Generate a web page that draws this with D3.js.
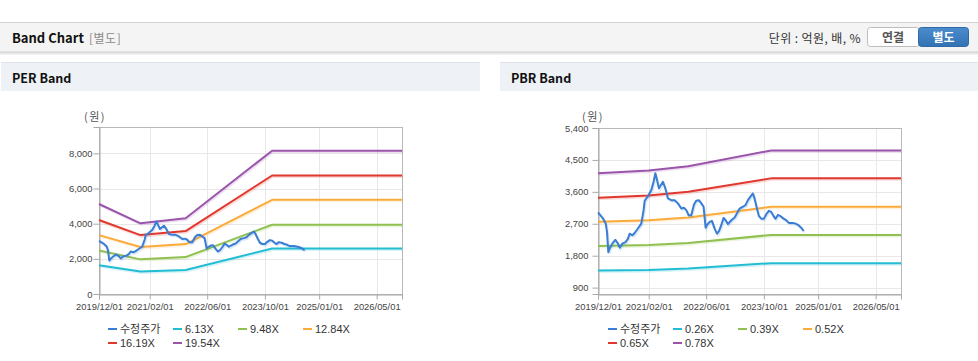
<!DOCTYPE html>
<html><head><meta charset="utf-8">
<script src="https://cdn.jsdelivr.net/npm/d3@7"></script>
<style>
html,body{margin:0;padding:0;background:#fff;}
svg{display:block;}
</style></head>
<body>
<svg id="c" width="978" height="361"></svg>
<script>
// ---------- DATA ----------
const xTickDates = ["2019-12-01","2021-02-01","2022-06-01","2023-10-01","2025-01-01","2026-05-01"];
const xTickLabels = ["2019/12/01","2021/02/01","2022/06/01","2023/10/01","2025/01/01","2026/05/01"];
const xDomain = ["2019-12-01","2026-12-01"];

const priceDates = ["2019-12-01","2020-01-12","2020-02-04","2020-02-15","2020-02-26","2020-03-08","2020-03-31","2020-04-25","2020-05-18","2020-06-01","2020-06-23","2020-07-21","2020-08-10","2020-08-24","2020-09-16","2020-10-05","2020-10-28","2020-11-30","2020-12-20","2020-12-29","2021-01-26","2021-02-23","2021-03-14","2021-03-29","2021-04-12","2021-04-28","2021-06-01","2021-06-21","2021-07-13","2021-08-11","2021-09-08","2021-10-06","2021-11-03","2021-11-25","2021-12-15","2022-01-04","2022-01-26","2022-02-18","2022-03-09","2022-04-01","2022-04-21","2022-05-10","2022-05-27","2022-06-07","2022-06-30","2022-07-20","2022-08-11","2022-08-31","2022-09-17","2022-10-06","2022-10-26","2022-11-12","2022-12-01","2022-12-30","2023-01-27","2023-02-15","2023-03-10","2023-04-07","2023-04-29","2023-05-19","2023-06-08","2023-06-30","2023-07-14","2023-08-03","2023-08-20","2023-09-09","2023-10-01","2023-10-21","2023-11-12","2023-12-02","2023-12-22","2024-01-07","2024-01-27","2024-02-19","2024-03-15","2024-04-06","2024-04-29","2024-06-02","2024-06-24","2024-07-19","2024-08-11","2024-08-31"];
const priceValues = [3020,2850,2705,2470,1900,2000,2140,2250,2140,2025,2140,2185,2280,2420,2375,2440,2545,2705,3085,3350,3480,3650,3885,4125,3935,3700,3885,3700,3415,3365,3365,3275,3130,3150,3085,2940,2940,3245,3350,3365,3275,3180,2590,2660,2755,2780,2565,2420,2495,2660,2865,2800,2690,2800,2875,2990,3130,3180,3225,3365,3460,3555,3415,3130,2915,2845,2845,2970,3065,3035,2915,2840,2950,2915,2845,2800,2725,2725,2705,2660,2590,2495];

const perBandDates = ["2019-12-01","2020-11-15","2021-12-01","2023-12-01","2026-12-01"];
const perBand613  = [1640,1280,1360,2590,2590];
const perBand948  = [2480,1970,2100,3940,3940];
const perBand1284 = [3350,2670,2840,5360,5360];
const perBand1619 = [4210,3350,3580,6740,6740];
const perBand1954 = [5120,4020,4310,8150,8150];
const perLegend = ["수정주가","6.13X","9.48X","12.84X","16.19X","19.54X"];
const perYTicks = [0,2000,4000,6000,8000];
const perYDomain = [0,9500];

const pbrBandDates = ["2019-12-01","2021-02-01","2022-01-01","2023-12-01","2026-12-01"];
const pbrBand026 = [1385,1400,1440,1590,1590];
const pbrBand039 = [2070,2100,2160,2385,2385];
const pbrBand052 = [2755,2800,2880,3180,3180];
const pbrBand065 = [3437,3500,3600,3980,3980];
const pbrBand078 = [4125,4200,4320,4768,4768];
const pbrLegend = ["수정주가","0.26X","0.39X","0.52X","0.65X","0.78X"];
const pbrYTicks = [900,1800,2700,3600,4500,5400];
const pbrYDomain = [720,5400];

const seriesColors = ["#3a7dd4","#22bdd2","#90c04f","#fbab3b","#e0382e","#9a55ab"];

// ---------- DRAW ----------
const parse = d3.timeParse("%Y-%m-%d");
const svg = d3.select("#c");
const KR = "'Noto Sans CJK KR','Noto Sans',sans-serif";
const AX = "'Liberation Sans',Arial,'Noto Sans CJK KR',sans-serif";

const defs = svg.append("defs");
const sh = defs.append("linearGradient").attr("id","shadow").attr("x1",0).attr("y1",0).attr("x2",0).attr("y2",1);
sh.append("stop").attr("offset","0%").attr("stop-color","#cfcfcf");
sh.append("stop").attr("offset","100%").attr("stop-color","#ffffff");
const bg = defs.append("linearGradient").attr("id","blueBtn").attr("x1",0).attr("y1",0).attr("x2",0).attr("y2",1);
bg.append("stop").attr("offset","0%").attr("stop-color","#4d8ccc");
bg.append("stop").attr("offset","100%").attr("stop-color","#3272b3");

// header bar
svg.append("rect").attr("x",0).attr("y",22).attr("width",978).attr("height",30).attr("fill","#f4f4f4");
svg.append("line").attr("x1",0).attr("x2",978).attr("y1",22.5).attr("y2",22.5).attr("stroke","#d2d2d2");
svg.append("rect").attr("x",0).attr("y",51.5).attr("width",978).attr("height",4).attr("fill","url(#shadow)");
svg.append("text").attr("x",12).attr("y",43).attr("font-family",KR).attr("font-weight","bold")
  .attr("font-size",13).attr("fill","#111").text("Band Chart");
svg.append("text").attr("x",89).attr("y",43).attr("font-family",KR)
  .attr("font-size",12).attr("fill","#8a8a8a").attr("letter-spacing",0.5).text("[별도]");
svg.append("text").attr("x",861).attr("y",42.5).attr("text-anchor","end").attr("font-family",KR)
  .attr("font-size",12).attr("fill","#333").attr("letter-spacing",0.4).text("단위 : 억원, 배, %");
svg.append("rect").attr("x",867.5).attr("y",27.5).attr("width",52).attr("height",19).attr("rx",3)
  .attr("fill","#fff").attr("stroke","#bdbdbd");
svg.append("text").attr("x",893).attr("y",41.5).attr("text-anchor","middle").attr("font-family",KR)
  .attr("font-weight","bold").attr("font-size",12).attr("fill","#555").text("연결");
svg.append("rect").attr("x",918.5).attr("y",27.5).attr("width",50).attr("height",19).attr("rx",3)
  .attr("fill","url(#blueBtn)").attr("stroke","#2f6aa6");
svg.append("text").attr("x",943.5).attr("y",41.5).attr("text-anchor","middle").attr("font-family",KR)
  .attr("font-weight","bold").attr("font-size",12).attr("fill","#fff").text("별도");

function sectionBar(x, w, label){
  svg.append("rect").attr("x",x).attr("y",62).attr("width",w).attr("height",29).attr("fill","#eef1f6");
  svg.append("line").attr("x1",x).attr("x2",x+w).attr("y1",62.5).attr("y2",62.5).attr("stroke","#dfe3e9");
  svg.append("text").attr("x",x+11).attr("y",82.5).attr("font-family",KR).attr("font-weight","bold")
    .attr("font-size",12.5).attr("fill","#111").text(label);
}
sectionBar(1,479,"PER Band");
sectionBar(500,478,"PBR Band");

function drawChart(cfg){
  const x = d3.scaleTime().domain(xDomain.map(parse)).range([cfg.left, cfg.right]);
  const y = d3.scaleLinear().domain(cfg.yDomain).range([cfg.bottom, cfg.top]);
  const g = svg.append("g");

  g.selectAll(".hg").data(cfg.yTicks).join("line")
    .attr("x1",cfg.left).attr("x2",cfg.right)
    .attr("y1",d=>Math.round(y(d))+0.5).attr("y2",d=>Math.round(y(d))+0.5)
    .attr("stroke","#e8e8e8");
  g.selectAll(".vg").data(xTickDates).join("line")
    .attr("x1",d=>Math.round(x(parse(d)))+0.5).attr("x2",d=>Math.round(x(parse(d)))+0.5)
    .attr("y1",cfg.top).attr("y2",cfg.bottom)
    .attr("stroke","#e8e8e8");

  g.append("rect").attr("x",cfg.left+0.5).attr("y",cfg.top+0.5)
    .attr("width",cfg.right-cfg.left).attr("height",cfg.bottom-cfg.top)
    .attr("fill","none").attr("stroke","#b8b8b8");

  const yAxis = d3.axisLeft(y).tickValues(cfg.yTicks).tickSize(6).tickPadding(cfg.yPad)
    .tickFormat(d3.format(","));
  const ya = g.append("g").attr("transform",`translate(${cfg.left+0.5},0)`).call(yAxis);
  const xAxis = d3.axisBottom(x).tickValues(xTickDates.map(parse)).tickSize(5).tickPadding(4)
    .tickFormat((d,i)=>xTickLabels[i]);
  const xa = g.append("g").attr("transform",`translate(0,${cfg.bottom+0.5})`).call(xAxis);
  [ya,xa].forEach(a=>{
    a.select(".domain").attr("stroke","#a8a8a8");
    a.selectAll(".tick line").attr("stroke","#a8a8a8");
    a.selectAll("text").attr("font-family",AX).attr("font-size",9.4).attr("fill","#444");
  });

  g.append("text").attr("x",cfg.unitX).attr("y",121).attr("font-family",KR)
    .attr("font-size",11).attr("fill","#555").attr("letter-spacing",1.5).text("(원)");

  const line = d3.line().x(d=>x(d[0])).y(d=>y(d[1]));
  const all = [];
  cfg.bands.forEach((vals,i)=>{
    all.push({color:seriesColors[i+1], pts: cfg.bandDates.map((d,j)=>[parse(d),vals[j]])});
  });
  all.push({color:seriesColors[0], pts: priceDates.map((d,j)=>[parse(d),priceValues[j]])});
  all.forEach(s=>{
    g.append("path").attr("d",line(s.pts)).attr("fill","none")
      .attr("stroke",s.color).attr("stroke-opacity",0.18).attr("stroke-width",2)
      .attr("transform","translate(1,1.5)");
    g.append("path").attr("d",line(s.pts)).attr("fill","none")
      .attr("stroke",s.color).attr("stroke-width",2).attr("stroke-linejoin","round");
  });

  const lg = g.append("g");
  cfg.legend.forEach((name,i)=>{
    const col = i % 4, row = Math.floor(i/4);
    const lx = cfg.legendX + col*65, ly = 329 + row*14;
    lg.append("line").attr("x1",lx).attr("x2",lx+9).attr("y1",ly).attr("y2",ly)
      .attr("stroke",seriesColors[i]).attr("stroke-width",2);
    lg.append("text").attr("x",lx+12).attr("y",ly+4).attr("font-family",AX)
      .attr("font-size",11).attr("fill","#333").text(name);
  });
}

drawChart({left:99, right:402, top:127, bottom:294, yDomain:perYDomain, yTicks:perYTicks, yPad:1,
  bandDates:perBandDates, bands:[perBand613,perBand948,perBand1284,perBand1619,perBand1954],
  legend:perLegend, legendX:108, unitX:84});
drawChart({left:598, right:901, top:128, bottom:294, yDomain:pbrYDomain, yTicks:pbrYTicks, yPad:4,
  bandDates:pbrBandDates, bands:[pbrBand026,pbrBand039,pbrBand052,pbrBand065,pbrBand078],
  legend:pbrLegend, legendX:608, unitX:582});
</script>
</body></html>
